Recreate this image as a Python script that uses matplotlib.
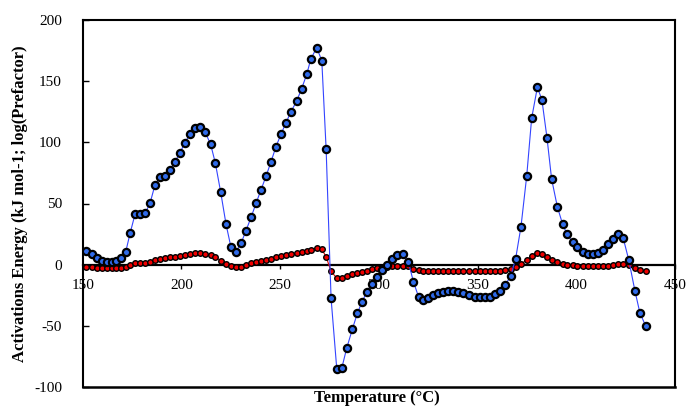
import matplotlib
matplotlib.use('Agg')
import matplotlib.pyplot as plt

# temperatures (deg C) of each conversion step
temperature = [151.7, 154.6, 157.1, 159.6, 162.2, 164.7, 166.9, 169.2, 171.8, 174.0,
               176.5, 179.0, 181.6, 184.1, 186.6, 189.2, 191.7, 194.2, 196.6, 199.3,
               201.8, 204.4, 206.9, 209.4, 211.9, 214.8, 217.2, 219.9, 222.6, 225.1,
               227.7, 230.2, 232.7, 235.3, 237.8, 240.3, 242.9, 245.4, 247.9, 250.5,
               253.0, 255.5, 258.4, 260.9, 263.5, 265.5, 268.5, 271.1, 273.3, 275.8,
               278.7, 281.2, 283.7, 286.6, 289.1, 291.5, 294.0, 296.6, 299.1, 301.6,
               304.2, 306.7, 309.2, 312.1, 315.0, 317.5, 320.1, 322.4, 325.1, 327.6,
               330.2, 332.7, 335.2, 337.8, 340.3, 342.8, 345.9, 348.7, 351.3, 353.8,
               356.3, 358.9, 361.4, 363.9, 366.8, 369.3, 372.0, 374.9, 377.4, 380.3,
               382.6, 385.2, 387.5, 390.4, 393.1, 395.4, 398.1, 400.6, 403.2, 405.8,
               408.3, 410.8, 413.7, 416.2, 418.7, 421.2, 423.8, 426.6, 429.7, 432.2,
               435.1]

# activation energy (kJ/mol)
activation = [11.4, 8.7, 5.2, 3.3, 2.5, 2.5, 3.0, 5.2, 10.6, 25.7,
              41.2, 41.2, 42.0, 50.2, 65.2, 71.5, 72.8, 77.4, 83.7, 91.6,
              99.8, 106.9, 112.0, 112.8, 108.7, 98.4, 82.9, 59.2, 33.0, 14.2,
              10.6, 17.5, 27.8, 38.8, 50.2, 61.1, 72.5, 84.2, 96.5, 106.9,
              116.1, 125.1, 133.8, 143.9, 155.7, 167.9, 177.4, 166.8, 94.4, -27.5,
              -85.5, -84.7, -68.4, -52.6, -39.8, -30.2, -22.1, -15.8, -9.8, -4.5,
              0.0, 5.0, 7.9, 8.7, 2.0, -13.9, -26.2, -28.9, -27.0, -24.8,
              -23.4, -22.3, -21.5, -21.5, -22.3, -23.4, -24.8, -26.2, -26.7, -26.7,
              -26.2, -24.2, -21.3, -16.6, -9.5, 5.0, 31.1, 72.5, 119.7, 145.0,
              134.7, 103.3, 70.1, 47.4, 33.0, 24.7, 18.5, 14.3, 10.6, 8.7,
              8.5, 9.8, 12.0, 16.7, 21.0, 25.1, 21.6, 3.8, -21.3, -39.2,
              -49.9]

# log(prefactor)
log_prefactor = [-1.8, -2.2, -2.6, -2.9, -3.0, -3.0, -2.9, -2.6, -2.0, -0.2,
                 1.1, 1.3, 1.6, 2.5, 3.8, 5.0, 5.7, 6.0, 6.5, 7.4,
                 8.2, 8.7, 9.3, 9.3, 8.7, 7.9, 6.0, 3.3, 0.6, -1.1,
                 -2.1, -1.6, -0.2, 1.1, 2.0, 3.0, 4.0, 5.0, 6.0, 7.0,
                 7.8, 8.6, 9.4, 10.0, 10.8, 12.0, 13.8, 12.5, 6.5, -5.5,
                 -11.0, -10.6, -9.2, -7.8, -6.5, -5.7, -4.9, -3.8, -2.9, -2.5,
                 -1.6, -1.2, -1.0, -1.0, -1.4, -3.5, -4.5, -4.9, -5.1, -5.2,
                 -5.2, -5.2, -5.2, -5.2, -5.2, -5.2, -5.2, -5.2, -5.2, -5.2,
                 -5.2, -5.2, -5.1, -4.6, -3.8, -2.1, 0.6, 3.8, 7.1, 9.5,
                 8.7, 6.3, 3.8, 1.8, 0.6, -0.2, -0.5, -0.8, -0.8, -0.8,
                 -0.8, -0.8, -0.8, -0.7, -0.5, 0.2, 0.3, -0.2, -2.7, -4.3,
                 -5.2]

xticks = [150, 200, 250, 300, 350, 400, 450]
yticks = [-100, -50, 0, 50, 100, 150, 200]

plt.rcParams['font.family'] = ['Liberation Serif', 'DejaVu Serif']
plt.rcParams['axes.unicode_minus'] = False

fig = plt.figure(figsize=(6.87, 4.07), dpi=100)
ax = fig.add_axes([0.1204, 0.0491, 0.8621, 0.9018])

ax.plot(temperature, log_prefactor, '-', color='#dd0000', lw=0.8,
        marker='o', ms=4.0, mfc='#ee0000', mec='black', mew=1.0, zorder=3)
ax.plot(temperature, activation, '-', color='#3344ff', lw=0.8,
        marker='o', ms=5.2, mfc='#2f6ae8', mec='black', mew=1.6, zorder=4)

ax.set_xlim(150, 450)
ax.set_ylim(-100, 200)
ax.set_xticks(xticks)
ax.set_yticks(yticks)

# x axis crosses at y = 0, frame kept around the plot
ax.spines['bottom'].set_position(('data', 0))
ax.spines['bottom'].set_linewidth(1.6)
for side in ['left', 'top', 'right']:
    ax.spines[side].set_linewidth(1.5)
ax.plot([0, 1], [0, 0], transform=ax.transAxes, color='black', lw=1.8,
        clip_on=False, zorder=5)

ax.tick_params(axis='y', direction='in', length=4, width=1, pad=15, labelsize=11)
ax.tick_params(axis='x', direction='out', length=3, width=1, pad=7, labelsize=11)

fig.text(0.549, 0.022, 'Temperature (°C)', fontsize=12, fontweight='bold',
         ha='center', va='center')
fig.text(0.029, 0.499, 'Activations Energy (kJ mol-1; log(Prefactor)',
         fontsize=12, fontweight='bold', rotation=90, ha='center', va='center')

fig.savefig('out.png', dpi=100)
